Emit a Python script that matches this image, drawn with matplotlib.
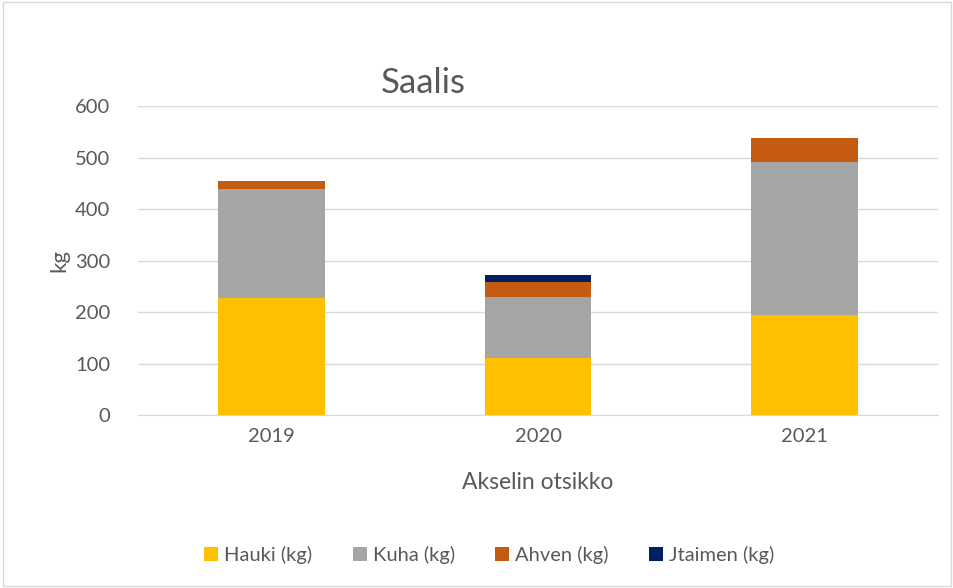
import matplotlib.pyplot as plt
from matplotlib.patches import Rectangle

plt.rcParams["font.family"] = ["Lato", "DejaVu Sans"]

YEARS = ["2019", "2020", "2021"]
HAUKI = [227, 111, 195]
KUHA = [211, 118, 296]
AHVEN = [17, 29, 46]
JTAIMEN = [0, 14, 0]

SERIES = [
    ("Hauki (kg)", HAUKI, "#FFC000"),
    ("Kuha (kg)", KUHA, "#A5A5A5"),
    ("Ahven (kg)", AHVEN, "#C55A11"),
    ("Jtaimen (kg)", JTAIMEN, "#002060"),
]

TEXT = "#595959"

fig = plt.figure(figsize=(9.54, 5.88), dpi=100)
ax = fig.add_axes([0.1447, 0.2942, 0.8385, 0.5255])

x = range(len(YEARS))
bottom = [0] * len(YEARS)
for name, vals, color in SERIES:
    ax.bar(x, vals, width=0.4, bottom=bottom, color=color, label=name, zorder=3)
    bottom = [b + v for b, v in zip(bottom, vals)]

ax.set_xlim(-0.5, 2.5)
ax.set_ylim(0, 600)
ax.set_yticks(range(0, 601, 100))
ax.set_xticks(list(x))
ax.set_xticklabels(YEARS)
ax.grid(axis="y", color="#D9D9D9", linewidth=1, zorder=0)
for side in ["top", "right", "left"]:
    ax.spines[side].set_visible(False)
ax.spines["bottom"].set_color("#D9D9D9")
ax.tick_params(length=0, colors=TEXT, labelsize=14.5, pad=9)
ax.tick_params(axis="y", pad=20)

ax.set_xlabel("Akselin otsikko", color=TEXT, fontsize=16.5, labelpad=20)
ax.set_ylabel("kg", color=TEXT, fontsize=16, labelpad=4)
fig.text(0.444, 0.858, "Saalis", color=TEXT, fontsize=25, ha="center", va="center")

ax.legend(loc="center", bbox_to_anchor=(0.513, 0.056), bbox_transform=fig.transFigure,
          ncol=4, frameon=False, fontsize=14.5, labelcolor=TEXT,
          handlelength=0.7, handleheight=0.7, handletextpad=0.3, columnspacing=2.0)

fig.patches.append(Rectangle((0.003, 0.003), 0.994, 0.994, transform=fig.transFigure,
                             fill=False, edgecolor="#D9D9D9", linewidth=1))

fig.savefig("out.png", dpi=100)
